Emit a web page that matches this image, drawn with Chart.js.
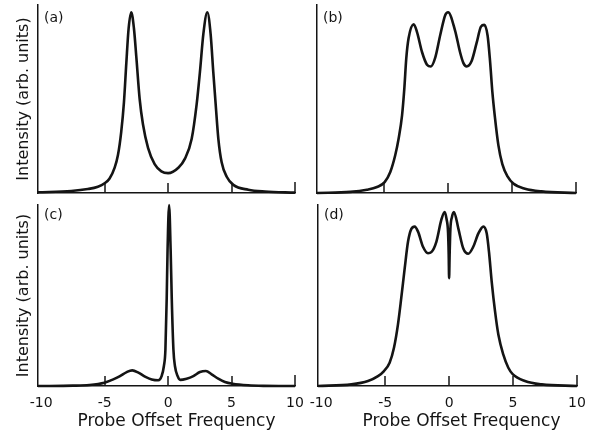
<!DOCTYPE html>
<html>
<head>
<meta charset="utf-8">
<script src="https://cdn.jsdelivr.net/npm/chart.js@4.4.0/dist/chart.umd.min.js"></script>
<style>
  html, body { margin: 0; padding: 0; background: #fff; overflow: hidden; }
  #wrap { position: relative; width: 590px; height: 431px; }
  canvas { position: absolute; }
</style>
</head>
<body>
<div id="wrap">
  <canvas id="cA" width="300" height="200" style="left:0;top:0"></canvas>
  <canvas id="cB" width="290" height="200" style="left:300px;top:0"></canvas>
  <canvas id="cC" width="310" height="231" style="left:0;top:200px"></canvas>
  <canvas id="cD" width="290" height="231" style="left:300px;top:200px"></canvas>
</div>
<script>
const tickValues = [-10, -5, 0, 5, 10];
const innerTicks = [-5, 0, 5, 10];
const panelLabels = ['(a)', '(b)', '(c)', '(d)'];
const yTitle = 'Intensity (arb. units)';
const xTitle = 'Probe Offset Frequency';

// (a) two sidebands
const freqA = [-10.25, -7.63, -6.32, -5.53, -5.0, -4.61, -4.21, -3.95, -3.69, -3.48, -3.29, -3.11, -2.9, -2.69, -2.5, -2.24, -1.98, -1.58, -1.06, -0.53,
  0, 0.81, 1.33, 1.86, 2.25, 2.51, 2.78, 3.09, 3.35, 3.56, 3.75, 3.96, 4.22, 4.62, 5.14, 6.32, 7.64, 10];
const intA = [0.004, 0.011, 0.022, 0.035, 0.054, 0.08, 0.14, 0.21, 0.34, 0.50, 0.72, 0.91, 1.0, 0.91, 0.75, 0.52, 0.38, 0.25, 0.16, 0.12,
  0.11, 0.14, 0.19, 0.30, 0.49, 0.67, 0.88, 1.0, 0.88, 0.67, 0.49, 0.30, 0.17, 0.09, 0.045, 0.018, 0.008, 0.002];

// (b) triplet
const freqB = [-10.25, -7.64, -6.35, -5.56, -4.96, -4.52, -4.13, -3.87, -3.6, -3.42, -3.27, -3.09, -2.69, -2.43, -2.04, -1.65, -1.34, -1.0, -0.61, -0.22,
  0, 0.54, 0.93, 1.19, 1.45, 1.84, 2.23, 2.57, 2.83, 3.09, 3.28, 3.46, 3.66, 3.93, 4.24, 4.66, 5.1, 6.01, 7.31, 10];
const intB = [0, 0.006, 0.018, 0.033, 0.06, 0.116, 0.21, 0.30, 0.43, 0.58, 0.745, 0.856, 0.933, 0.89, 0.78, 0.71, 0.70, 0.75, 0.875, 0.985,
  1.0, 0.90, 0.78, 0.72, 0.70, 0.73, 0.83, 0.92, 0.93, 0.87, 0.73, 0.56, 0.42, 0.265, 0.16, 0.09, 0.052, 0.024, 0.009, 0];

// (c) narrow central line
const freqC = [-10.25, -7.5, -6.2, -5.02, -4.32, -3.79, -3.26, -2.82, -2.34, -1.82, -1.29, -0.77, -0.51, -0.33, -0.21, -0.11, -0.04,
  0.08, 0.2, 0.29, 0.42, 0.54, 0.75, 0.96, 1.46, 1.99, 2.51, 2.98, 3.43, 3.95, 4.48, 5.08, 6.3, 7.5, 10];
const intC = [0, 0.002, 0.006, 0.019, 0.038, 0.057, 0.08, 0.09, 0.077, 0.054, 0.038, 0.033, 0.057, 0.115, 0.21, 0.5, 0.785,
  1.04, 0.785, 0.5, 0.21, 0.115, 0.057, 0.035, 0.042, 0.057, 0.08, 0.086, 0.067, 0.042, 0.023, 0.013, 0.004, 0.001, 0];

// (d) triplet with central dip
const freqD = [-10.25, -7.64, -6.34, -5.56, -5.09, -4.65, -4.31, -4.0, -3.74, -3.47, -3.21, -2.95, -2.69, -2.43, -2.04, -1.65, -1.39, -0.99, -0.61, -0.35,
  -0.2, -0.08, -0.03, 0, 0.04, 0.1, 0.22, 0.38, 0.72, 1.11, 1.5, 1.89, 2.29, 2.68, 2.94, 3.12, 3.33, 3.59, 3.85, 4.24, 4.63, 4.99, 5.93, 7.24, 10];
const intD = [0, 0.0095, 0.029, 0.057, 0.086, 0.134, 0.22, 0.353, 0.506, 0.677, 0.83, 0.903, 0.916, 0.887, 0.80, 0.763, 0.769, 0.83, 0.954, 1.0,
  0.96, 0.88, 0.75, 0.62, 0.75, 0.9, 0.97, 1.0, 0.906, 0.79, 0.76, 0.80, 0.877, 0.916, 0.877, 0.77, 0.60, 0.43, 0.296, 0.18, 0.105, 0.067, 0.029, 0.0095, 0];

const ink = '#141414';
const face = '"DejaVu Sans", sans-serif';

// inward ticks on the baseline, panel letter, x title
const framePlugin = {
  id: 'frame',
  afterDraw(chart, args, opts) {
    const { ctx, chartArea: a, scales: { x } } = chart;
    ctx.save();
    ctx.strokeStyle = ink;
    ctx.lineWidth = 1.5;
    innerTicks.forEach(v => {
      const px = Math.round(x.getPixelForValue(v));
      ctx.beginPath();
      ctx.moveTo(px, a.bottom);
      ctx.lineTo(px, a.bottom - (v === 10 ? 11 : 10));
      ctx.stroke();
    });
    ctx.fillStyle = ink;
    ctx.font = '14px ' + face;
    ctx.textBaseline = 'middle';
    ctx.fillText(opts.label, a.left + 6, a.top + opts.dy);
    if (opts.xTitle) {
      ctx.font = '17px ' + face;
      ctx.textAlign = 'center';
      ctx.textBaseline = 'alphabetic';
      ctx.fillText(xTitle, (a.left + a.right) / 2 + opts.shift, chart.height - 5);
    }
    ctx.restore();
  }
};

function panel(id, freq, inten, idx, isLeft, isBottom, yWidth, padRight, shift) {
  new Chart(document.getElementById(id), {
    type: 'line',
    data: {
      datasets: [{
        data: freq.map((f, i) => ({ x: f, y: inten[i] })),
        borderColor: ink,
        borderWidth: 2.6,
        pointRadius: 0,
        cubicInterpolationMode: 'monotone',
        clip: false
      }]
    },
    options: {
      responsive: false,
      animation: false,
      events: [],
      layout: { padding: { top: 5, right: padRight, left: 0, bottom: 0 } },
      plugins: {
        legend: { display: false },
        tooltip: { enabled: false },
        frame: { label: panelLabels[idx], dy: isBottom ? 10 : 13, xTitle: isBottom, shift: shift }
      },
      scales: {
        x: {
          type: 'linear',
          min: -10.25,
          max: 10,
          grid: { display: false, drawTicks: false },
          border: { display: true, color: ink, width: 1.5 },
          ticks: { display: isBottom, color: ink, font: { family: face, size: 14 }, padding: 9 },
          afterBuildTicks: s => { s.ticks = tickValues.map(v => ({ value: v })); },
          afterFit: s => { s.height = isBottom ? 45 : 7; s.paddingLeft = 0; s.paddingRight = 0; }
        },
        y: {
          min: 0,
          max: 1.04,
          grid: { display: false, drawTicks: false },
          border: { display: true, color: ink, width: 1.5 },
          ticks: { display: false },
          title: { display: isLeft, text: yTitle, color: ink, font: { family: face, size: 16 }, padding: { top: 14, bottom: 0 } },
          afterFit: s => { s.width = yWidth; }
        }
      }
    },
    plugins: [framePlugin]
  });
}

panel('cA', freqA, intA, 0, true, false, 38, 5, 0);
panel('cB', freqB, intB, 1, false, false, 17, 14, 0);
panel('cC', freqC, intC, 2, true, true, 38, 15, 10);
panel('cD', freqD, intD, 3, false, true, 18, 13, 14);
</script>
</body>
</html>
